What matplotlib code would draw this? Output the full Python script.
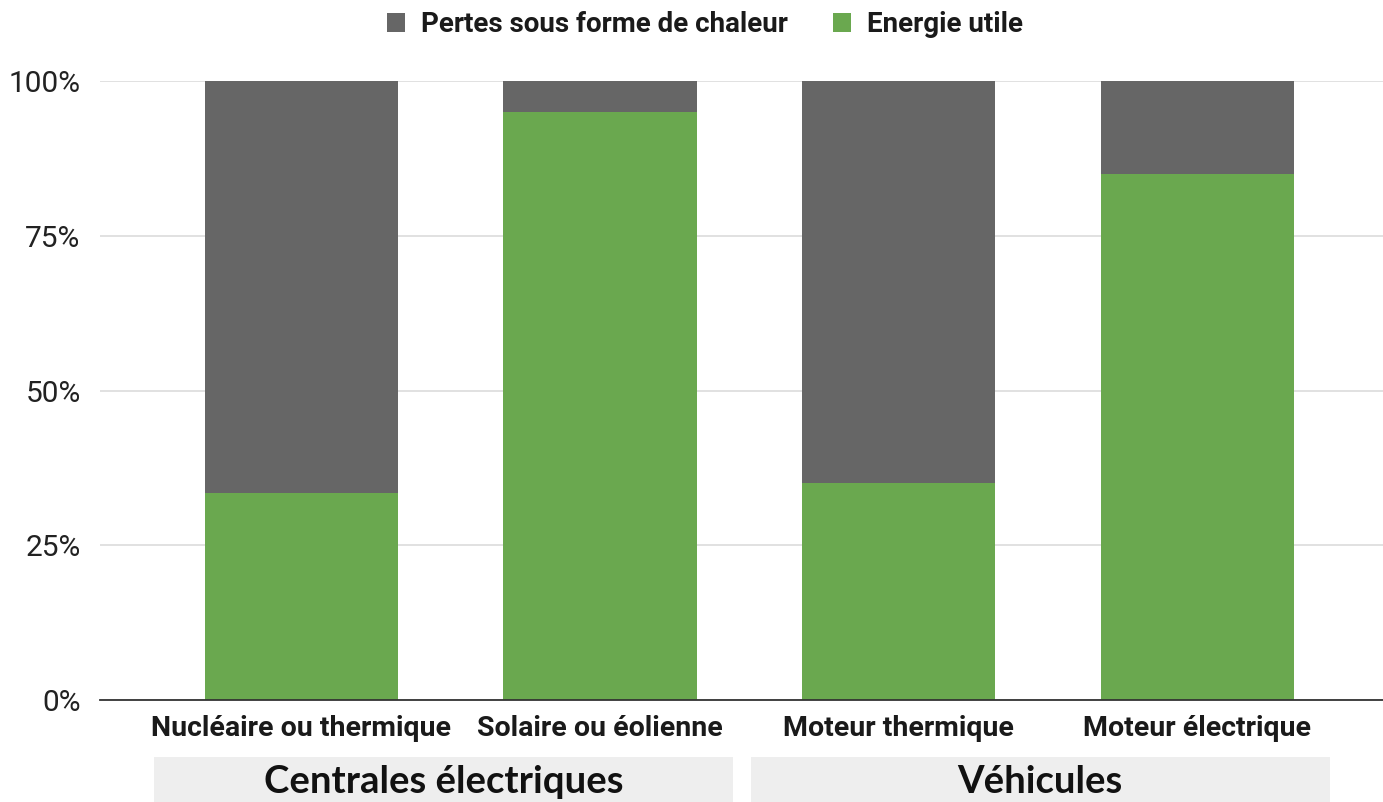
import matplotlib
matplotlib.use("Agg")
import matplotlib.pyplot as plt
import matplotlib.transforms as mtransforms
from matplotlib.patches import Rectangle
import numpy as np

categories = ["Nucléaire ou thermique", "Solaire ou éolienne", "Moteur thermique", "Moteur électrique"]
energie_utile = [33.5, 95, 35, 85]
pertes = [66.5, 5, 65, 15]
groups = ["Centrales électriques", "Véhicules"]
group_members = [[0, 1], [2, 3]]
yticks = [0, 25, 50, 75, 100]
yticklabels = ["0%", "25%", "50%", "75%", "100%"]

GRAY = "#666666"
GREEN = "#6aa84f"

W, H = 1383, 802
fig = plt.figure(figsize=(W / 100, H / 100), dpi=100)
ax = fig.add_axes([100 / W, (H - 700) / H, (1383 - 100) / W, (700 - 81) / H])

x = np.arange(len(categories))
width = 0.6466
b1 = ax.bar(x, energie_utile, width, color=GREEN, label="Energie utile", zorder=3)
b2 = ax.bar(x, pertes, width, bottom=energie_utile, color=GRAY,
            label="Pertes sous forme de chaleur", zorder=3)

ax.set_xlim(-0.675, 3.623)
ax.set_ylim(0, 100)
ax.set_yticks(yticks)
ax.set_yticklabels(yticklabels, fontfamily="Roboto", fontsize=21.5, color="#222222")
ax.set_xticks(x)
ax.set_xticklabels(categories, fontfamily="Roboto", fontweight="bold", fontsize=20.5,
                   color="#1a1a1a")
ax.tick_params(axis="both", length=0)
ax.tick_params(axis="y", pad=14)
ax.tick_params(axis="x", pad=11)
for s in ["top", "right", "left"]:
    ax.spines[s].set_visible(False)
ax.spines["bottom"].set_color("#333333")
ax.spines["bottom"].set_linewidth(1.3)
ax.spines["bottom"].set_zorder(4)
ax.yaxis.grid(True, color="#d9d9d9", linewidth=1.1, zorder=0)
ax.set_axisbelow(True)

# group label boxes
trans = mtransforms.blended_transform_factory(ax.transData, fig.transFigure)
for g, mem in zip(groups, group_members):
    x0 = min(mem) - 0.495
    x1 = max(mem) + 0.445
    rect = Rectangle((x0, 0), x1 - x0, (H - 757) / H, transform=trans,
                     facecolor="#eeeeee", edgecolor="none", clip_on=False, zorder=1)
    fig.add_artist(rect)
    fig.text((x0 + x1) / 2, (H - 782) / H, g, transform=trans, ha="center", va="center",
             fontfamily="Lato", fontweight="bold", fontsize=27.5, color="#111111", zorder=2)

handles = [b2, b1]
leg = fig.legend(handles, [h.get_label() for h in handles], loc="center",
                 bbox_to_anchor=(705 / W, (H - 25) / H), ncol=2, frameon=False,
                 prop={"family": "Roboto", "weight": "bold", "size": 20},
                 handlelength=0.65, handleheight=0.65, handletextpad=0.6, columnspacing=1.6)
for t in leg.get_texts():
    t.set_color("#1a1a1a")

fig.savefig("out.png", dpi=100)
